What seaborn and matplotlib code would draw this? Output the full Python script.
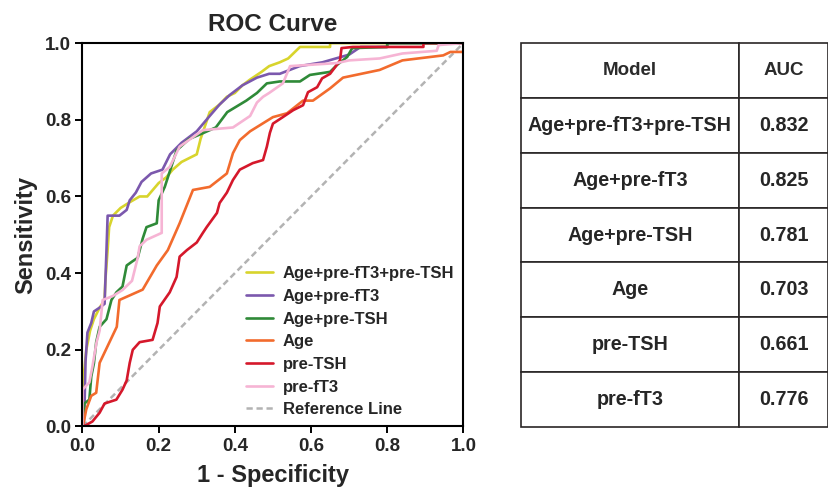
import pandas as pd
import numpy as np
import matplotlib
matplotlib.use('Agg')
import matplotlib.pyplot as plt
import seaborn as sns

# ROC points (1 - specificity, sensitivity)
combo_fpr = [0, 0, 0.005, 0.01, 0.02, 0.03, 0.045, 0.058, 0.06, 0.066, 0.07, 0.08, 0.1, 0.124, 0.15, 0.17, 0.2, 0.22,
             0.237, 0.26, 0.28, 0.3, 0.31, 0.334, 0.36, 0.379, 0.40, 0.42, 0.44, 0.47, 0.49, 0.518, 0.54, 0.571,
             0.65, 0.65, 1.0]
combo_tpr = [0, 0.10, 0.15, 0.2, 0.25, 0.28, 0.31, 0.33, 0.38, 0.46, 0.52, 0.55, 0.57, 0.585, 0.60, 0.60, 0.635, 0.65,
             0.67, 0.69, 0.70, 0.71, 0.75, 0.82, 0.84, 0.86, 0.87, 0.89, 0.905, 0.925, 0.94, 0.95, 0.96, 0.99,
             0.99, 1.0, 1.0]

age_ft3_fpr = [0, 0.003, 0.005, 0.008, 0.013, 0.023, 0.03, 0.045, 0.058, 0.063, 0.066, 0.097, 0.116, 0.124, 0.14,
               0.155, 0.18, 0.21, 0.23, 0.26, 0.3, 0.334, 0.36, 0.387, 0.42, 0.458, 0.49, 0.518, 0.57, 0.63, 0.70,
               0.73, 0.80, 0.80, 1.0]
age_ft3_tpr = [0, 0.0, 0.036, 0.17, 0.245, 0.27, 0.30, 0.31, 0.32, 0.46, 0.55, 0.55, 0.565, 0.59, 0.61, 0.638,
               0.66, 0.67, 0.71, 0.74, 0.77, 0.81, 0.84, 0.865, 0.89, 0.91, 0.92, 0.92, 0.94, 0.95, 0.97, 0.99,
               0.99, 1.0, 1.0]

age_tsh_fpr = [0, 0.003, 0.005, 0.018, 0.023, 0.03, 0.036, 0.045, 0.063, 0.076, 0.089, 0.105, 0.116, 0.13, 0.145,
               0.158, 0.168, 0.195, 0.2, 0.216, 0.247, 0.28, 0.316, 0.35, 0.38, 0.405, 0.43, 0.458, 0.484, 0.518,
               0.571, 0.597, 0.65, 0.668, 0.695, 0.708, 0.80, 0.80, 1.0]
age_tsh_tpr = [0, 0.04, 0.06, 0.07, 0.13, 0.165, 0.22, 0.26, 0.28, 0.33, 0.35, 0.365, 0.42, 0.43, 0.44, 0.49, 0.52,
               0.53, 0.59, 0.625, 0.72, 0.75, 0.765, 0.78, 0.82, 0.835, 0.85, 0.87, 0.895, 0.90, 0.90, 0.917,
               0.925, 0.943, 0.964, 0.987, 0.99, 1.0, 1.0]

age_fpr = [0, 0.003, 0.01, 0.023, 0.036, 0.045, 0.09, 0.097, 0.158, 0.195, 0.224, 0.255, 0.29, 0.334, 0.379, 0.395,
           0.413, 0.44, 0.50, 0.537, 0.579, 0.605, 0.65, 0.684, 0.78, 0.84, 0.947, 0.966, 1.0]
age_tpr = [0, 0.01, 0.045, 0.08, 0.088, 0.166, 0.26, 0.33, 0.357, 0.42, 0.46, 0.53, 0.617, 0.625, 0.66, 0.713,
           0.747, 0.77, 0.807, 0.817, 0.85, 0.85, 0.882, 0.91, 0.93, 0.955, 0.968, 0.977, 0.977]

tsh_fpr = [0, 0.003, 0.026, 0.045, 0.058, 0.089, 0.105, 0.116, 0.124, 0.132, 0.15, 0.184, 0.197, 0.203, 0.229,
           0.247, 0.255, 0.274, 0.3, 0.316, 0.326, 0.353, 0.36, 0.379, 0.395, 0.413, 0.447, 0.474, 0.484, 0.492,
           0.5, 0.526, 0.553, 0.579, 0.592, 0.616, 0.629, 0.65, 0.663, 0.676, 0.68, 0.71, 0.895, 0.895, 1.0]
tsh_tpr = [0, 0.0, 0.013, 0.036, 0.06, 0.07, 0.096, 0.12, 0.166, 0.2, 0.22, 0.226, 0.27, 0.313, 0.35, 0.39, 0.443,
           0.46, 0.48, 0.505, 0.52, 0.557, 0.583, 0.61, 0.643, 0.67, 0.687, 0.695, 0.73, 0.766, 0.79, 0.807, 0.825,
           0.838, 0.872, 0.885, 0.908, 0.92, 0.937, 0.955, 0.987, 0.99, 0.99, 1.0, 1.0]

ft3_fpr = [0, 0.0, 0.018, 0.026, 0.037, 0.045, 0.053, 0.079, 0.105, 0.13, 0.145, 0.15, 0.168, 0.208, 0.208, 0.229,
           0.255, 0.316, 0.395, 0.44, 0.458, 0.474, 0.49, 0.526, 0.545, 0.668, 0.70, 0.78, 0.84, 0.93, 0.935, 1.0]
ft3_tpr = [0, 0.096, 0.115, 0.156, 0.22, 0.25, 0.33, 0.34, 0.356, 0.38, 0.44, 0.47, 0.487, 0.505, 0.66, 0.677,
           0.73, 0.773, 0.78, 0.81, 0.845, 0.86, 0.87, 0.895, 0.94, 0.948, 0.955, 0.96, 0.973, 0.98, 0.995, 1.0]

models = ['Age+pre-fT3+pre-TSH', 'Age+pre-fT3', 'Age+pre-TSH', 'Age', 'pre-TSH', 'pre-fT3']
auc = ['0.832', '0.825', '0.781', '0.703', '0.661', '0.776']
colors = ['#d8d42c', '#7b58ad', '#2f8a38', '#f26b2d', '#d5182b', '#f6b4d4']

curves = [(combo_fpr, combo_tpr), (age_ft3_fpr, age_ft3_tpr), (age_tsh_fpr, age_tsh_tpr),
          (age_fpr, age_tpr), (tsh_fpr, tsh_tpr), (ft3_fpr, ft3_tpr)]

frames = []
for name, (f, t) in zip(models, curves):
    frames.append(pd.DataFrame({'fpr': f, 'tpr': t, 'Model': name}))
df = pd.concat(frames, ignore_index=True)

sns.set_style('white')
plt.rcParams['font.family'] = ['Liberation Sans', 'DejaVu Sans']
plt.rcParams['font.weight'] = 'bold'

fig = plt.figure(figsize=(8.29, 4.9), dpi=100)
ax = fig.add_axes([0.0995, 0.1296, 0.4595, 0.7824])

# reference line first so the curves sit on top
ax.plot([0, 1], [0, 1], ls=(0, (2.5, 1.5)), color='#b3b3b3', lw=1.8, label='_ref', zorder=1)

sns.lineplot(data=df, x='fpr', y='tpr', hue='Model', hue_order=models,
             palette=dict(zip(models, colors)), estimator=None, sort=False,
             linewidth=1.9, ax=ax, zorder=2)

handles, labels = ax.get_legend_handles_labels()
ref_handle = plt.Line2D([], [], ls=(0, (2.5, 1.5)), color='#b3b3b3', lw=1.8)
handles = handles[:len(models)] + [ref_handle]
labels = labels[:len(models)] + ['Reference Line']
ax.legend(handles, labels, loc='lower right', frameon=False,
          prop={'weight': 'bold', 'size': 12}, handlelength=1.6, handletextpad=0.6,
          labelspacing=0.46, borderaxespad=0.15)

ax.set_xlim(0, 1)
ax.set_ylim(0, 1)
ax.set_xticks(np.arange(0, 1.01, 0.2))
ax.set_yticks(np.arange(0, 1.01, 0.2))
ax.set_xticklabels([f'{v:.1f}' for v in np.arange(0, 1.01, 0.2)])
ax.set_yticklabels([f'{v:.1f}' for v in np.arange(0, 1.01, 0.2)])
ax.tick_params(axis='both', direction='out', length=5, width=1.4, labelsize=13.5, pad=3,
               bottom=True, left=True, color='black')
for s in ax.spines.values():
    s.set_visible(True)
    s.set_color('black')
    s.set_linewidth(1.5)
ax.set_xlabel('1 - Specificity', fontsize=17, fontweight='bold', labelpad=7)
ax.set_ylabel('Sensitivity', fontsize=17, fontweight='bold', labelpad=6)
ax.set_title('ROC Curve', fontsize=17.5, fontweight='bold', pad=9)

# AUC table
tax = fig.add_axes([521 / 829, (490 - 427) / 490, 307 / 829, 384 / 490])
tax.axis('off')
cell_text = [[m, a] for m, a in zip(models, auc)]
tbl = tax.table(cellText=cell_text, colLabels=['Model', 'AUC'], cellLoc='center',
                colWidths=[218 / 307, 89 / 307], bbox=[0, 0, 1, 1])
tbl.auto_set_font_size(False)
for (r, c), cell in tbl.get_celld().items():
    cell.set_edgecolor('#2a2626')
    cell.set_linewidth(1.2)
    cell.get_text().set_fontweight('bold')
    cell.get_text().set_fontsize(14.2 if r > 0 else 13.5)
    if r == 0:
        cell.get_text().set_color('#2b2b2b')

fig.savefig('out.png', dpi=100)
